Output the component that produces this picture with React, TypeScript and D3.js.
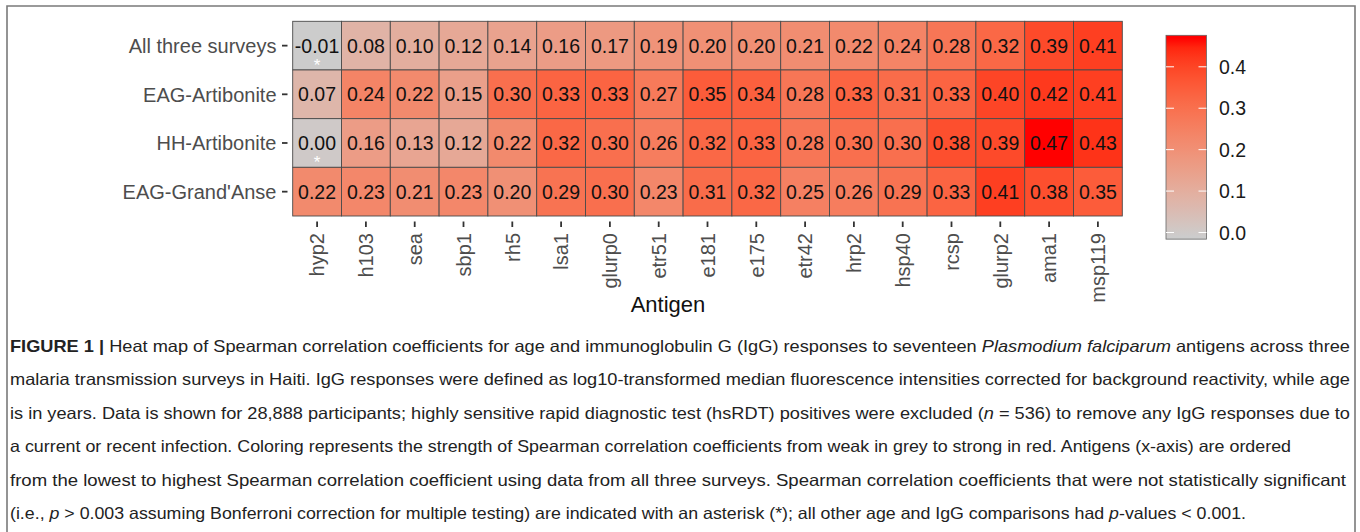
import React from "react";
import * as d3 from "d3";

// antigens, ordered by the "All three surveys" coefficient
const antigens = ["hyp2", "h103", "sea", "sbp1", "rh5", "lsa1", "glurp0", "etr51", "e181", "e175", "etr42", "hrp2", "hsp40", "rcsp", "glurp2", "ama1", "msp119"];
const surveys = ["All three surveys", "EAG-Artibonite", "HH-Artibonite", "EAG-Grand'Anse"];

const allThree = [-0.01, 0.08, 0.10, 0.12, 0.14, 0.16, 0.17, 0.19, 0.20, 0.20, 0.21, 0.22, 0.24, 0.28, 0.32, 0.39, 0.41];
const eagArtibonite = [0.07, 0.24, 0.22, 0.15, 0.30, 0.33, 0.33, 0.27, 0.35, 0.34, 0.28, 0.33, 0.31, 0.33, 0.40, 0.42, 0.41];
const hhArtibonite = [0.00, 0.16, 0.13, 0.12, 0.22, 0.32, 0.30, 0.26, 0.32, 0.33, 0.28, 0.30, 0.30, 0.38, 0.39, 0.47, 0.43];
const eagGrandAnse = [0.22, 0.23, 0.21, 0.23, 0.20, 0.29, 0.30, 0.23, 0.31, 0.32, 0.25, 0.26, 0.29, 0.33, 0.41, 0.38, 0.35];

// not significant cells: [survey, antigen]
const notSignificant = [["All three surveys", "hyp2"], ["HH-Artibonite", "hyp2"]];

const legendTicks = [0.0, 0.1, 0.2, 0.3, 0.4];

const captionLines = [
  [{ t: "FIGURE 1 | ", b: true }, { t: "Heat map of Spearman correlation coefficients for age and immunoglobulin G (IgG) responses to seventeen " }, { t: "Plasmodium falciparum", i: true }, { t: " antigens across three" }],
  [{ t: "malaria transmission surveys in Haiti. IgG responses were defined as log10-transformed median fluorescence intensities corrected for background reactivity, while age" }],
  [{ t: "is in years. Data is shown for 28,888 participants; highly sensitive rapid diagnostic test (hsRDT) positives were excluded (" }, { t: "n", i: true }, { t: " = 536) to remove any IgG responses due to" }],
  [{ t: "a current or recent infection. Coloring represents the strength of Spearman correlation coefficients from weak in grey to strong in red. Antigens (x-axis) are ordered" }],
  [{ t: "from the lowest to highest Spearman correlation coefficient using data from all three surveys. Spearman correlation coefficients that were not statistically significant" }],
  [{ t: "(i.e., " }, { t: "p", i: true }, { t: " > 0.003 assuming Bonferroni correction for multiple testing) are indicated with an asterisk (*); all other age and IgG comparisons had " }, { t: "p", i: true }, { t: "-values < 0.001." }],
];
const captionWidths = [1340, 1340, 1340, 1281, 1336, 1236];

const W = 1360;
const H = 532;
const FONT = "'Liberation Sans', Arial, Helvetica, sans-serif";

export default function App() {
  const rows = [allThree, eagArtibonite, hhArtibonite, eagGrandAnse];
  const cells = rows.flatMap((vals, r) => vals.map((v, c) => ({ survey: surveys[r], antigen: antigens[c], value: v })));

  const x = d3.scaleBand<string>().domain(antigens).range([292.7, 1122.3]);
  const y = d3.scaleBand<string>().domain(surveys).range([21.3, 216]);

  const extent = d3.extent(cells, (d) => d.value) as [number, number];
  const color = d3.scaleLinear<string>().domain(extent).range(["#cccccc", "#ff0000"]).interpolate(d3.interpolateLab);

  // legend colour bar
  const ly = d3.scaleLinear().domain([0, 0.4]).range([232.5, 66.8]);
  const barTop = ly(extent[1] + 0.006);
  const barBottom = ly(extent[0] - 0.006);
  const barX = 1166;
  const barW = 40.5;
  const stops = d3.range(0, 1.0001, 0.05).map((t) => extent[0] + t * (extent[1] - extent[0]));

  const isNS = (s: string, a: string) => notSignificant.some(([ss, aa]) => ss === s && aa === a);

  return (
    <svg width={W} height={H} style={{ position: "absolute", left: 0, top: 0, background: "#fff" }} fontFamily={FONT}>
      <defs>
        <linearGradient id="lg" x1="0" y1="1" x2="0" y2="0">
          {stops.map((v, i) => (
            <stop key={i} offset={(ly(v) - barBottom) / (barTop - barBottom)} stopColor={color(v)} />
          ))}
        </linearGradient>
      </defs>

      {/* frame */}
      <path d={`M7,${H} V6 H1355 V${H}`} fill="none" stroke="#7a7a7a" strokeWidth={1.6} />

      {/* cells */}
      {cells.map((d, i) => (
        <g key={i}>
          <rect x={x(d.antigen)} y={y(d.survey)} width={x.bandwidth()} height={y.bandwidth()} fill={color(d.value)} stroke="#4a4a4a" strokeWidth={0.9} />
          <text x={x(d.antigen)! + x.bandwidth() / 2} y={y(d.survey)! + y.bandwidth() / 2} dy="0.36em" textAnchor="middle" fontSize={19.5} fill="#111">
            {d.value.toFixed(2)}
          </text>
          {isNS(d.survey, d.antigen) && (
            <text x={x(d.antigen)! + x.bandwidth() / 2} y={y(d.survey)! + y.bandwidth() / 2 + 25} textAnchor="middle" fontSize={17} fill="#fff">
              *
            </text>
          )}
        </g>
      ))}

      {/* y axis */}
      {surveys.map((s) => (
        <g key={s}>
          <line x1={282} x2={287.5} y1={y(s)! + y.bandwidth() / 2} y2={y(s)! + y.bandwidth() / 2} stroke="#333" strokeWidth={1.8} />
          <text x={276.5} y={y(s)! + y.bandwidth() / 2} dy="0.36em" textAnchor="end" fontSize={20} fill="#4d4d4d">
            {s}
          </text>
        </g>
      ))}

      {/* x axis */}
      {antigens.map((a) => {
        const cx = x(a)! + x.bandwidth() / 2;
        return (
          <g key={a}>
            <line x1={cx} x2={cx} y1={221.5} y2={227} stroke="#333" strokeWidth={1.8} />
            <text transform={`translate(${cx},233) rotate(-90)`} dy="0.36em" textAnchor="end" fontSize={20} fill="#4d4d4d">
              {a}
            </text>
          </g>
        );
      })}
      <text x={668} y={312} textAnchor="middle" fontSize={22} fill="#111">
        Antigen
      </text>

      {/* legend */}
      <rect x={barX} y={barTop} width={barW} height={barBottom - barTop} fill="url(#lg)" stroke="#666" strokeWidth={0.8} />
      {legendTicks.map((t) => (
        <g key={t}>
          <line x1={barX} x2={barX + 8} y1={ly(t)} y2={ly(t)} stroke="#fff" strokeWidth={1} />
          <line x1={barX + barW - 8} x2={barX + barW} y1={ly(t)} y2={ly(t)} stroke="#fff" strokeWidth={1} />
          <text x={1219} y={ly(t)} dy="0.36em" fontSize={19.5} fill="#1a1a1a">
            {t.toFixed(1)}
          </text>
        </g>
      ))}

      {/* caption */}
      {captionLines.map((parts, li) => (
        <text key={li} x={10} y={352 + li * 33.4} fontSize={16.5} fill="#222" textLength={captionWidths[li]} lengthAdjust="spacingAndGlyphs">
          {parts.map((p: any, pi) => (
            <tspan key={pi} fontWeight={p.b ? "bold" : "normal"} fontStyle={p.i ? "italic" : "normal"}>
              {p.t}
            </tspan>
          ))}
        </text>
      ))}
    </svg>
  );
}
